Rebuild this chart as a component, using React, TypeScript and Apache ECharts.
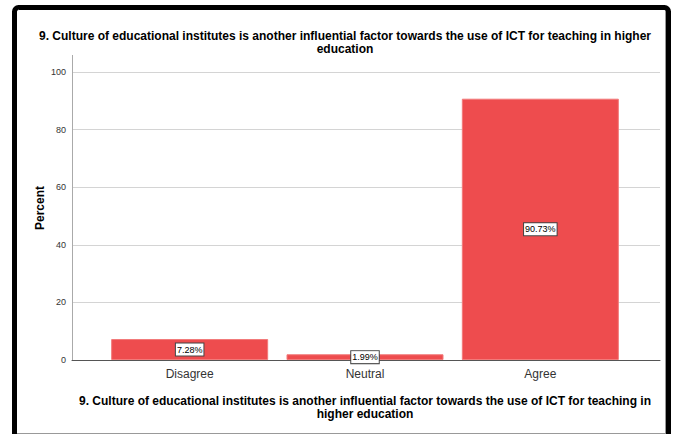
import React, { useEffect, useRef } from "react";
import * as echarts from "echarts";

const categories = ["Disagree", "Neutral", "Agree"];
const percents = [7.28, 1.99, 90.73];
const yTicks = { min: 0, max: 100, interval: 20 };
const titleText =
  "9. Culture of educational institutes is another influential factor towards the use of ICT for teaching in higher\neducation";
const xTitle =
  "9. Culture of educational institutes is another influential factor towards the use of ICT for teaching in\nhigher education";
const yTitle = "Percent";

const FONT = "'Liberation Sans', Arial, sans-serif";

export default function App() {
  const ref = useRef<HTMLDivElement>(null);
  useEffect(() => {
    document.body.style.margin = "0";
    const chart = echarts.init(ref.current!, undefined, { renderer: "svg" });
    chart.setOption({
      animation: false,
      backgroundColor: "#fff",
      textStyle: { fontFamily: FONT },
      title: {
        text: titleText,
        left: 340,
        textAlign: "center",
        top: 24,
        textStyle: { fontSize: 12, fontWeight: "bold", color: "#000", lineHeight: 13, fontFamily: FONT },
      },
      grid: [
        { left: 72, right: 17, top: 72, bottom: 74 },
        { left: 102, right: 49, top: 72, bottom: 74 },
      ],
      xAxis: [
        {
          type: "value",
          gridIndex: 0,
          min: 0,
          max: 1,
          axisLine: { show: true, lineStyle: { color: "#555", width: 1 } },
          axisTick: { show: false },
          axisLabel: { show: false },
          splitLine: { show: false },
        },
        {
          type: "category",
          gridIndex: 1,
          data: categories,
          axisLine: { show: false },
          axisTick: { show: false },
          axisLabel: { color: "#333", fontSize: 12, margin: 8, fontFamily: FONT },
          name: xTitle,
          nameLocation: "middle",
          nameGap: 34,
          nameTextStyle: { fontSize: 12, fontWeight: "bold", color: "#000", lineHeight: 13, fontFamily: FONT },
        },
      ],
      yAxis: [
        {
          type: "value",
          gridIndex: 0,
          min: yTicks.min,
          max: yTicks.max,
          interval: yTicks.interval,
          axisLine: { show: true, lineStyle: { color: "#aaa", width: 1 } },
          axisTick: { show: false },
          axisLabel: { color: "#333", fontSize: 9, margin: 6, fontFamily: FONT },
          splitLine: { show: true, lineStyle: { color: "#d4d4d4", width: 1 } },
        },
        {
          type: "value",
          gridIndex: 1,
          min: yTicks.min,
          max: yTicks.max,
          interval: yTicks.interval,
          show: false,
          splitLine: { show: false },
        },
      ],
      series: [
        {
          type: "bar",
          xAxisIndex: 1,
          yAxisIndex: 1,
          data: percents,
          barWidth: 157,
          itemStyle: { color: "#ee4c4e", borderColor: "#f27a7a", borderWidth: 1 },
          label: {
            show: true,
            position: "inside",
            formatter: (p: any) => p.value.toFixed(2) + "%",
            color: "#000",
            fontSize: 9,
            fontFamily: FONT,
            backgroundColor: "#fff",
            borderColor: "#444",
            borderWidth: 1,
            padding: [2, 1, 1, 1],
          },
        },
      ],
      graphic: [
        {
          type: "line",
          shape: { x1: 72.5, y1: 55, x2: 72.5, y2: 72 },
          style: { stroke: "#aaa", lineWidth: 1 },
        },
        {
          type: "text",
          x: 40,
          y: 208,
          rotation: Math.PI / 2,
          style: {
            text: yTitle,
            fontSize: 12,
            fontWeight: "bold",
            fill: "#000",
            fontFamily: FONT,
            textAlign: "center",
            textVerticalAlign: "middle",
          },
        },
        {
          type: "line",
          shape: { x1: 17, y1: 433.5, x2: 665, y2: 433.5 },
          style: { stroke: "#999", lineWidth: 1 },
        },
        {
          type: "line",
          shape: { x1: 665.5, y1: 10, x2: 665.5, y2: 434 },
          style: { stroke: "#999", lineWidth: 1 },
        },
        {
          type: "rect",
          shape: { x: 14.5, y: 7.5, width: 654, height: 460, r: 4 },
          style: { fill: "none", stroke: "#000", lineWidth: 5 },
        },
      ],
    });
    return () => chart.dispose();
  }, []);
  return (
    <div
      ref={ref}
      style={{ position: "fixed", left: 0, top: 0, width: 677, height: 434 }}
    />
  );
}
